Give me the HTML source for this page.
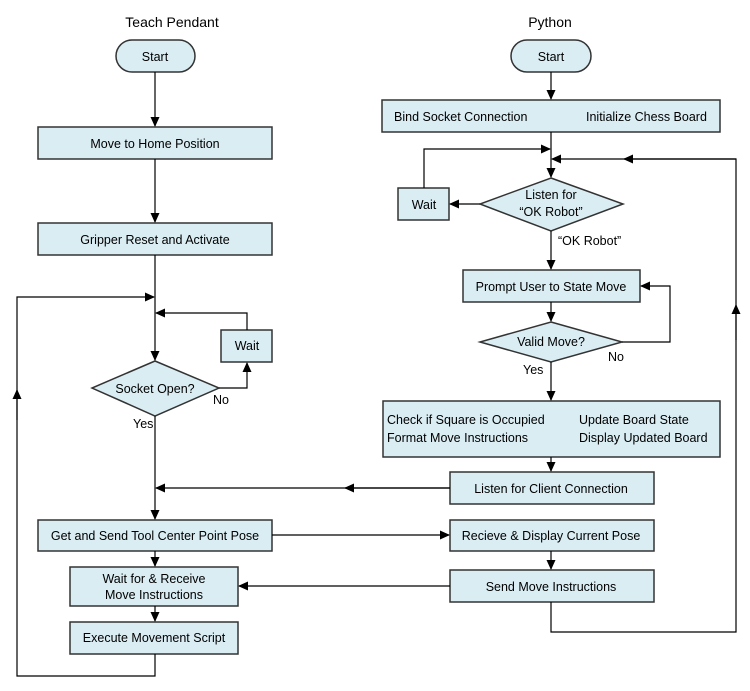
<!DOCTYPE html>
<html><head><style>body{margin:0;background:#fff}svg{display:block}text{font-family:"Liberation Sans",sans-serif;font-size:12.5px;fill:#000}</style></head><body>
<svg width="750" height="691" viewBox="0 0 750 691" xmlns="http://www.w3.org/2000/svg">
<defs><marker id="a" markerWidth="10" markerHeight="10" refX="9" refY="5" orient="auto" markerUnits="userSpaceOnUse"><path d="M0,0.5 L10,5 L0,9.5z" fill="#000"/></marker></defs>
<g fill="#daedf3" stroke="#333" stroke-width="1.5">
<rect x="116" y="40" width="79" height="32" rx="16"/>
<rect x="38" y="127" width="234" height="32"/>
<rect x="38" y="223" width="234" height="32"/>
<rect x="221" y="330" width="51" height="32"/>
<polygon points="155,361 219,388 155,416 92,388"/>
<rect x="38" y="520" width="234" height="31"/>
<rect x="70" y="567" width="168" height="39"/>
<rect x="70" y="622" width="168" height="32"/>
<rect x="511" y="40" width="80" height="32" rx="16"/>
<rect x="382" y="100" width="338" height="32"/>
<rect x="398" y="188" width="51" height="32"/>
<polygon points="551,178 623,204 551,231 480,204"/>
<rect x="463" y="270" width="177" height="32"/>
<polygon points="551,322 622,342 551,362 480,342"/>
<rect x="383" y="401" width="337" height="56"/>
<rect x="450" y="472" width="204" height="32"/>
<rect x="450" y="520" width="204" height="31"/>
<rect x="450" y="570" width="204" height="32"/>
</g>
<g fill="none" stroke="#000" stroke-width="1.2">
<path d="M155,72V126" marker-end="url(#a)"/>
<path d="M155,159V222" marker-end="url(#a)"/>
<path d="M155,255V360" marker-end="url(#a)"/>
<path d="M247,330V313H156" marker-end="url(#a)"/>
<path d="M219,388H247V363" marker-end="url(#a)"/>
<path d="M155,416V519" marker-end="url(#a)"/>
<path d="M155,551V566" marker-end="url(#a)"/>
<path d="M155,606V621" marker-end="url(#a)"/>
<path d="M155,654V676H17V297H154" marker-end="url(#a)"/>
<path d="M17,420V390" marker-end="url(#a)"/>
<path d="M551,72V99" marker-end="url(#a)"/>
<path d="M551,132V177" marker-end="url(#a)"/>
<path d="M424,188V149H550" marker-end="url(#a)"/>
<path d="M480,204H450" marker-end="url(#a)"/>
<path d="M551,231V269" marker-end="url(#a)"/>
<path d="M551,302V321" marker-end="url(#a)"/>
<path d="M622,342H670V286H641" marker-end="url(#a)"/>
<path d="M551,362V400" marker-end="url(#a)"/>
<path d="M551,457V471" marker-end="url(#a)"/>
<path d="M450,488H156" marker-end="url(#a)"/>
<path d="M450,488H345" marker-end="url(#a)"/>
<path d="M272,535H449" marker-end="url(#a)"/>
<path d="M551,551V569" marker-end="url(#a)"/>
<path d="M450,586H239" marker-end="url(#a)"/>
<path d="M551,602V632H736V159H552" marker-end="url(#a)"/>
<path d="M736,159H624" marker-end="url(#a)"/>
<path d="M736,340V305" marker-end="url(#a)"/>
</g>
<g text-anchor="middle">
<text x="172" y="27" style="font-size:14px">Teach Pendant</text>
<text x="550" y="27" style="font-size:14px">Python</text>
<text x="155" y="61">Start</text>
<text x="155" y="148">Move to Home Position</text>
<text x="155" y="244">Gripper Reset and Activate</text>
<text x="247" y="350">Wait</text>
<text x="155" y="393">Socket Open?</text>
<text x="155" y="540">Get and Send Tool Center Point Pose</text>
<text x="154" y="583">Wait for &amp; Receive</text>
<text x="154" y="599">Move Instructions</text>
<text x="154" y="642">Execute Movement Script</text>
<text x="551" y="61">Start</text>
<text x="424" y="209">Wait</text>
<text x="551" y="199">Listen for</text>
<text x="551" y="216">“OK Robot”</text>
<text x="551" y="291">Prompt User to State Move</text>
<text x="551" y="346">Valid Move?</text>
<text x="551" y="493">Listen for Client Connection</text>
<text x="551" y="540">Recieve &amp; Display Current Pose</text>
<text x="551" y="591">Send Move Instructions</text>
</g>
<text x="394" y="121">Bind Socket Connection</text>
<text x="586" y="121">Initialize Chess Board</text>
<text x="387" y="424">Check if Square is Occupied</text>
<text x="387" y="442">Format Move Instructions</text>
<text x="579" y="424">Update Board State</text>
<text x="579" y="442">Display Updated Board</text>
<text x="213" y="404">No</text>
<text x="133" y="428">Yes</text>
<text x="558" y="245">“OK Robot”</text>
<text x="608" y="361">No</text>
<text x="523" y="374">Yes</text>
</svg>
</body></html>
